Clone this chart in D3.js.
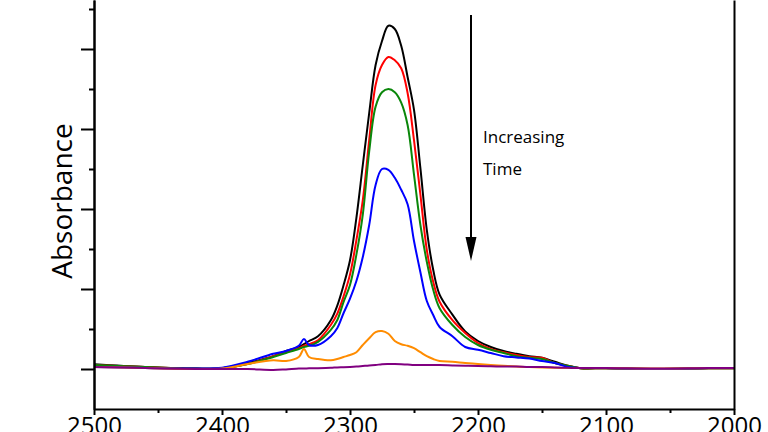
<!DOCTYPE html>
<html>
<head>
<meta charset="utf-8">
<script src="https://d3js.org/d3.v7.min.js"></script>
<style>
  body { margin: 0; background: #fff; }
  svg { display: block; font-family: "Open Sans", sans-serif; }
</style>
</head>
<body>
<div id="d3-container"></div>
<script>
// wavenumbers (cm-1) shared by every trace
const wavenumbers = [2500, 2460, 2420, 2400, 2380, 2360, 2350, 2340, 2336, 2332, 2325, 2315, 2310, 2305, 2300, 2295, 2290, 2285, 2280, 2275, 2270, 2265, 2260, 2255, 2250, 2245, 2240, 2235, 2230, 2220, 2210, 2200, 2190, 2180, 2170, 2160, 2150, 2140, 2130, 2120, 2100, 2060, 2020, 2000];

const blackTrace  = [0.06, 0.025, 0.005, 0.01, 0.075, 0.16, 0.225, 0.275, 0.31, 0.35, 0.41, 0.61, 0.79, 1.05, 1.36, 1.89, 2.55, 3.2, 3.8, 4.1, 4.29, 4.25, 4.04, 3.65, 3.24, 2.51, 1.74, 1.24, 0.93, 0.68, 0.47, 0.35, 0.275, 0.225, 0.19, 0.16, 0.14, 0.09, 0.04, 0.01, 0.01, 0, 0.01, 0.01];
const redTrace    = [0.05, 0.025, 0.005, 0.01, 0.0625, 0.16, 0.21, 0.26, 0.29, 0.31, 0.36, 0.55, 0.69, 0.91, 1.18, 1.61, 2.11, 2.86, 3.55, 3.8, 3.9, 3.86, 3.76, 3.45, 2.86, 2.18, 1.49, 1.09, 0.84, 0.61, 0.45, 0.325, 0.25, 0.21, 0.175, 0.15, 0.14, 0.075, 0.04, 0.01, 0.01, 0, 0.01, 0.01];
const greenTrace  = [0.05, 0.025, 0.005, 0.01, 0.0625, 0.15, 0.2, 0.25, 0.275, 0.29, 0.34, 0.49, 0.61, 0.84, 1.05, 1.43, 1.93, 2.72, 3.28, 3.46, 3.5, 3.46, 3.33, 3.05, 2.43, 1.8, 1.34, 0.99, 0.76, 0.55, 0.4, 0.3, 0.24, 0.2, 0.16, 0.14, 0.125, 0.075, 0.04, 0.01, 0.01, 0, 0.01, 0.01];
const blueTrace   = [0.025, 0.0125, 0.005, 0.015, 0.09, 0.19, 0.225, 0.29, 0.375, 0.3, 0.3, 0.41, 0.51, 0.7, 0.88, 1.1, 1.4, 1.8, 2.3, 2.5, 2.49, 2.39, 2.24, 2.06, 1.6, 1.21, 0.85, 0.675, 0.525, 0.41, 0.275, 0.24, 0.2, 0.16, 0.145, 0.13, 0.1, 0.075, 0.025, 0.0125, 0.0125, 0, 0.0125, 0.0125];
const orangeTrace = [0.025, 0.0125, 0, 0.005, 0.0625, 0.11, 0.1, 0.15, 0.25, 0.15, 0.125, 0.11, 0.125, 0.15, 0.175, 0.21, 0.3, 0.385, 0.46, 0.475, 0.44, 0.35, 0.31, 0.29, 0.26, 0.21, 0.16, 0.125, 0.1, 0.09, 0.075, 0.0625, 0.05, 0.04, 0.03, 0.025, 0.02, 0.015, 0.0125, 0.0125, 0.0125, 0.005, 0.0125, 0.0125];
const purpleTrace = [0.025, 0.0125, 0, 0, 0, -0.0125, -0.005, 0.005, 0.005, 0.008, 0.01, 0.015, 0.02, 0.022, 0.025, 0.03, 0.0375, 0.045, 0.05, 0.06, 0.0625, 0.0625, 0.06, 0.056, 0.05, 0.05, 0.05, 0.05, 0.05, 0.045, 0.04, 0.0375, 0.035, 0.03, 0.03, 0.025, 0.025, 0.02, 0.015, 0.0125, 0.0125, 0.005, 0.0125, 0.0125];

const xMajorTicks = [2500, 2400, 2300, 2200, 2100, 2000];
const xMinorTicks = [2450, 2350, 2250, 2150, 2050];
const yMajorTicks = [0, 1, 2, 3, 4];
const yMinorTicks = [0.5, 1.5, 2.5, 3.5, 4.5];

const traces = [
  { values: blackTrace,  color: "#000000" },
  { values: redTrace,    color: "#ff0000" },
  { values: greenTrace,  color: "#0a870a" },
  { values: blueTrace,   color: "#0000ff" },
  { values: orangeTrace, color: "#ff8c00" },
  { values: purpleTrace, color: "#800080" }
];

let width = 768, height = 432;

let svg = d3.select("#d3-container")
  .append("svg")
  .attr("width", width)
  .attr("height", height);

const xScale = d3.scaleLinear()
  .domain([2500, 2000])
  .range([94, 734]);

const yScale = d3.scaleLinear()
  .domain([-0.5, 4.6125])
  .range([409, 0]);

// traces
const line = d3.line()
  .x((d, i) => xScale(wavenumbers[i]))
  .y(d => yScale(d))
  .curve(d3.curveCatmullRom.alpha(0.5));

traces.forEach(t => {
  svg.append("path")
    .datum(t.values)
    .attr("fill", "none")
    .attr("stroke", t.color)
    .attr("stroke-width", 2)
    .attr("stroke-linejoin", "round")
    .attr("d", line);
});

// x axis
svg.append("g")
  .attr("transform", "translate(0,409)")
  .call(d3.axisBottom(xScale).tickValues(xMinorTicks).tickSize(4).tickSizeOuter(0).tickFormat(""))
  .call(g => g.select(".domain").remove());

let xAxis = svg.append("g")
  .attr("transform", "translate(0,409)")
  .call(d3.axisBottom(xScale).tickValues(xMajorTicks).tickSize(6).tickPadding(2).tickSizeOuter(0).tickFormat(d3.format("d")));
xAxis.selectAll("text")
  .attr("font-size", 24)
  .attr("font-family", "Open Sans, sans-serif")
  .attr("fill", "#000");

// y axis
svg.append("g")
  .attr("transform", "translate(94,0)")
  .call(d3.axisLeft(yScale).tickValues(yMinorTicks).tickSize(5).tickSizeOuter(0).tickFormat(""));

svg.append("g")
  .attr("transform", "translate(94,0)")
  .call(d3.axisLeft(yScale).tickValues(yMajorTicks).tickSize(13).tickSizeOuter(0).tickFormat(""));

// right frame line
svg.append("g")
  .attr("transform", "translate(734,0)")
  .call(d3.axisRight(yScale).tickValues([]).tickSizeOuter(0));

svg.selectAll(".domain, .tick line")
  .attr("stroke", "#000")
  .attr("stroke-width", 2);

svg.append("text")
  .attr("transform", "translate(72,201) rotate(-90)")
  .attr("text-anchor", "middle")
  .attr("font-size", 28)
  .attr("fill", "#000")
  .text("Absorbance");

// arrow annotation
svg.append("line")
  .attr("x1", 471).attr("y1", 15)
  .attr("x2", 471).attr("y2", 240)
  .attr("stroke", "#000")
  .attr("stroke-width", 2);

svg.append("path")
  .attr("d", "M465.5,237 L476.5,237 L471,261 Z")
  .attr("fill", "#000");

svg.append("text")
  .attr("x", 483).attr("y", 143)
  .attr("font-size", 17)
  .attr("fill", "#000")
  .text("Increasing");

svg.append("text")
  .attr("x", 483).attr("y", 175)
  .attr("font-size", 17)
  .attr("fill", "#000")
  .text("Time");
</script>
</body>
</html>
